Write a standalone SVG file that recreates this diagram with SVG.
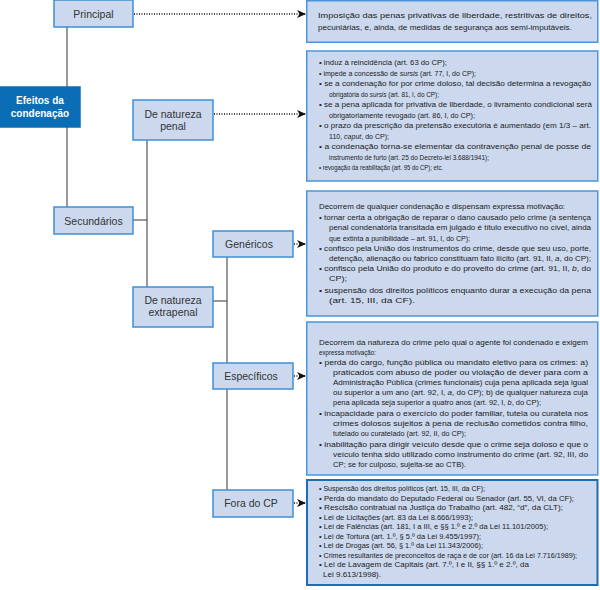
<svg xmlns="http://www.w3.org/2000/svg" width="600" height="590" viewBox="0 0 600 590">
<style>
.node{fill:#cbd8ee;stroke:#3f8fd6;stroke-width:1.5}
.root{fill:#0b6db6;stroke:#0b6db6;stroke-width:1.5}
.box{fill:#cbd8ee;stroke:#4a96d8;stroke-width:1.5}
.box5{fill:#cbd8ee;stroke:#1c6db5;stroke-width:2}
.nt{font-family:"Liberation Sans",Arial,sans-serif;font-size:10.5px;fill:#333;text-anchor:middle}
.rt{font-family:"Liberation Sans",Arial,sans-serif;font-size:10px;font-weight:bold;fill:#fff;text-anchor:middle}
.bt{font-family:"Liberation Sans",Arial,sans-serif;font-size:8px;fill:#222}
.sm{font-size:7.4px}
.ln{stroke:#555;stroke-width:1.2;fill:none}
.dt{stroke:#111;stroke-width:1.3;stroke-dasharray:1 1.5;fill:none}
.i{font-style:italic}
</style>
<defs>
<marker id="ah" markerUnits="userSpaceOnUse" markerWidth="9" markerHeight="8" refX="9" refY="4" orient="auto">
<path d="M0,0 L9,4 L0,8 L2.5,4 z" fill="#111"/>
</marker>
</defs>

<g id="connectors">
<line class="ln" x1="67" y1="27" x2="67" y2="87"/>
<line class="ln" x1="67" y1="127" x2="67" y2="207"/>
<line class="ln" x1="147" y1="140" x2="147" y2="287"/>
<line class="ln" x1="133" y1="220" x2="147" y2="220"/>
<line class="ln" x1="227" y1="257" x2="227" y2="363"/>
<line class="ln" x1="227" y1="389" x2="227" y2="490"/>
<line class="ln" x1="213" y1="301" x2="227" y2="301"/>
<line class="dt" x1="134" y1="14" x2="306" y2="14" marker-end="url(#ah)"/>
<line class="dt" x1="214" y1="114" x2="306" y2="114" marker-end="url(#ah)"/>
<line class="dt" x1="294" y1="244" x2="306" y2="244" marker-end="url(#ah)"/>
<line class="dt" x1="294" y1="376" x2="306" y2="376" marker-end="url(#ah)"/>
<line class="dt" x1="294" y1="503" x2="306" y2="503" marker-end="url(#ah)"/>
</g>

<g id="n-principal">
<rect class="node" x="54" y="0" width="79" height="27"/>
<text class="nt" x="93.5" y="18">Principal</text>
</g>
<g id="n-efeitos">
<rect class="root" x="0" y="87" width="80" height="40"/>
<text class="rt" x="40" y="104">Efeitos da</text>
<text class="rt" x="40" y="117">condenação</text>
</g>
<g id="n-secundarios">
<rect class="node" x="54" y="207" width="79" height="27"/>
<text class="nt" x="93.5" y="224.5">Secundários</text>
</g>
<g id="n-penal">
<rect class="node" x="133" y="100" width="80" height="40"/>
<text class="nt" x="173" y="117.5">De natureza</text>
<text class="nt" x="173" y="129.5">penal</text>
</g>
<g id="n-extrapenal">
<rect class="node" x="133" y="287" width="80" height="40"/>
<text class="nt" x="173" y="304">De natureza</text>
<text class="nt" x="173" y="316">extrapenal</text>
</g>
<g id="n-genericos">
<rect class="node" x="213" y="231" width="80" height="26"/>
<text class="nt" x="249" y="247.5">Genéricos</text>
</g>
<g id="n-especificos">
<rect class="node" x="213" y="363" width="80" height="26"/>
<text class="nt" x="251" y="379.5">Específicos</text>
</g>
<g id="n-fora">
<rect class="node" x="213" y="490" width="80" height="27"/>
<text class="nt" x="251" y="507">Fora do CP</text>
</g>

<g id="b-principal">
<rect class="box" x="306.75" y="0.75" width="291" height="41.5"/>
<text class="bt" x="318" y="18" textLength="274" lengthAdjust="spacingAndGlyphs">Imposição das penas privativas de liberdade, restritivas de direitos,</text>
<text class="bt" x="318" y="30" textLength="254" lengthAdjust="spacingAndGlyphs">pecuniárias, e, ainda, de medidas de segurança aos semi-imputáveis.</text>
</g>

<g id="b-penal">
<rect class="box" x="306.75" y="51" width="291" height="130"/>
<text class="bt" x="319" y="65" textLength="128" lengthAdjust="spacingAndGlyphs">• induz à reincidência (art. 63 do CP);</text>
<text class="bt" x="319" y="75.5" textLength="157" lengthAdjust="spacingAndGlyphs">• impede a concessão de <tspan class="i">sursis</tspan> (art. 77, I, do CP);</text>
<text class="bt" x="319" y="86" textLength="272" lengthAdjust="spacingAndGlyphs">• se a condenação for por crime doloso, tal decisão determina a revogação</text>
<text class="bt" x="329" y="96.5" textLength="110" lengthAdjust="spacingAndGlyphs">obrigatória do <tspan class="i">sursis</tspan> (art. 81, I, do CP);</text>
<text class="bt" x="319" y="107" textLength="273" lengthAdjust="spacingAndGlyphs">• se a pena aplicada for privativa de liberdade, o livramento condicional será</text>
<text class="bt" x="329" y="117.5" textLength="146" lengthAdjust="spacingAndGlyphs">obrigatoriamente revogado (art. 86, I, do CP);</text>
<text class="bt" x="319" y="128" textLength="272" lengthAdjust="spacingAndGlyphs">• o prazo da prescrição da pretensão executória é aumentado (em 1/3 – art.</text>
<text class="bt" x="329" y="138.5" textLength="60" lengthAdjust="spacingAndGlyphs">110, <tspan class="i">caput</tspan>, do CP);</text>
<text class="bt" x="319" y="149" textLength="272" lengthAdjust="spacingAndGlyphs">• a condenação torna-se elementar da contravenção penal de posse de</text>
<text class="bt" x="329" y="159.5" textLength="160" lengthAdjust="spacingAndGlyphs">instrumento de furto (art. 25 do Decreto-lei 3.688/1941);</text>
<text class="bt" x="319" y="170" textLength="124" lengthAdjust="spacingAndGlyphs">• revogação da reabilitação (art. 95 do CP); etc.</text>
</g>

<g id="b-genericos">
<rect class="box" x="306.75" y="191" width="291" height="125"/>
<text class="bt" x="319" y="209" textLength="246" lengthAdjust="spacingAndGlyphs">Decorrem de qualquer condenação e dispensam expressa motivação:</text>
<text class="bt" x="319" y="220" textLength="272" lengthAdjust="spacingAndGlyphs">• tornar certa a obrigação de reparar o dano causado pelo crime (a sentença</text>
<text class="bt" x="329" y="230" textLength="262" lengthAdjust="spacingAndGlyphs">penal condenatória transitada em julgado é título executivo no cível, ainda</text>
<text class="bt" x="329" y="240.5" textLength="141" lengthAdjust="spacingAndGlyphs">que extinta a punibilidade – art. 91, I, do CP);</text>
<text class="bt" x="319" y="250.5" textLength="272" lengthAdjust="spacingAndGlyphs">• confisco pela União dos instrumentos do crime, desde que seu uso, porte,</text>
<text class="bt" x="329" y="260.5" textLength="262" lengthAdjust="spacingAndGlyphs">detenção, alienação ou fabrico constituam fato ilícito (art. 91, II, <tspan class="i">a</tspan>, do CP);</text>
<text class="bt" x="319" y="271" textLength="272" lengthAdjust="spacingAndGlyphs">• confisco pela União do produto e do proveito do crime (art. 91, II, <tspan class="i">b</tspan>, do</text>
<text class="bt" x="329" y="281" textLength="18" lengthAdjust="spacingAndGlyphs">CP);</text>
<text class="bt" x="319" y="293" textLength="272" lengthAdjust="spacingAndGlyphs">• suspensão dos direitos políticos enquanto durar a execução da pena</text>
<text class="bt" x="329" y="303" textLength="86" lengthAdjust="spacingAndGlyphs">(art. 15, III, da CF).</text>
</g>

<g id="b-especificos">
<rect class="box" x="306.75" y="322" width="291" height="153"/>
<text class="bt" x="319" y="345" textLength="269" lengthAdjust="spacingAndGlyphs">Decorrem da natureza do crime pelo qual o agente foi condenado e exigem</text>
<text class="bt" x="319" y="355" textLength="57" lengthAdjust="spacingAndGlyphs">expressa motivação:</text>
<text class="bt" x="319" y="365" textLength="269" lengthAdjust="spacingAndGlyphs">• perda do cargo, função pública ou mandato eletivo para os crimes: a)</text>
<text class="bt" x="333" y="375" textLength="255" lengthAdjust="spacingAndGlyphs">praticados com abuso de poder ou violação de dever para com a</text>
<text class="bt" x="333" y="385" textLength="255" lengthAdjust="spacingAndGlyphs">Administração Pública (crimes funcionais) cuja pena aplicada seja igual</text>
<text class="bt" x="333" y="395" textLength="255" lengthAdjust="spacingAndGlyphs">ou superior a um ano (art. 92, I, <tspan class="i">a</tspan>, do CP); b) de qualquer natureza cuja</text>
<text class="bt" x="333" y="405" textLength="208" lengthAdjust="spacingAndGlyphs">pena aplicada seja superior a quatro anos (art. 92, I, <tspan class="i">b</tspan>, do CP);</text>
<text class="bt" x="319" y="416" textLength="269" lengthAdjust="spacingAndGlyphs">• incapacidade para o exercício do poder familiar, tutela ou curatela nos</text>
<text class="bt" x="333" y="426" textLength="255" lengthAdjust="spacingAndGlyphs">crimes dolosos sujeitos à pena de reclusão cometidos contra filho,</text>
<text class="bt" x="333" y="436" textLength="133" lengthAdjust="spacingAndGlyphs">tutelado ou curatelado (art. 92, II, do CP);</text>
<text class="bt" x="319" y="447" textLength="269" lengthAdjust="spacingAndGlyphs">• inabilitação para dirigir veículo desde que o crime seja doloso e que o</text>
<text class="bt" x="333" y="457" textLength="255" lengthAdjust="spacingAndGlyphs">veículo tenha sido utilizado como instrumento do crime (art. 92, III, do</text>
<text class="bt" x="333" y="467" textLength="133" lengthAdjust="spacingAndGlyphs">CP; se for culposo, sujeita-se ao CTB).</text>
</g>

<g id="b-fora">
<rect class="box5" x="307" y="480" width="290.5" height="105"/>
<text class="bt" x="319" y="491" textLength="166" lengthAdjust="spacingAndGlyphs">• Suspensão dos direitos políticos (art. 15, III, da CF);</text>
<text class="bt" x="319" y="500.5" textLength="255" lengthAdjust="spacingAndGlyphs">• Perda do mandato do Deputado Federal ou Senador (art. 55, VI, da CF);</text>
<text class="bt" x="319" y="510" textLength="244" lengthAdjust="spacingAndGlyphs">• Rescisão contratual na Justiça do Trabalho (art. 482, “d”, da CLT);</text>
<text class="bt" x="319" y="519.5" textLength="154" lengthAdjust="spacingAndGlyphs">• Lei de Licitações (art. 83 da Lei 8.666/1993);</text>
<text class="bt" x="319" y="529" textLength="229" lengthAdjust="spacingAndGlyphs">• Lei de Falências (art. 181, I a III, e §§ 1.º e 2.º da Lei 11.101/2005);</text>
<text class="bt" x="319" y="538.5" textLength="162" lengthAdjust="spacingAndGlyphs">• Lei de Tortura (art. 1.º, § 5.º da Lei 9.455/1997);</text>
<text class="bt" x="319" y="548" textLength="164" lengthAdjust="spacingAndGlyphs">• Lei de Drogas (art. 56, § 1.º da Lei 11.343/2006);</text>
<text class="bt sm" x="319" y="557.5" textLength="258" lengthAdjust="spacingAndGlyphs">• Crimes resultantes de preconceitos de raça e de cor (art. 16 da Lei 7.716/1989);</text>
<text class="bt" x="319" y="567" textLength="210" lengthAdjust="spacingAndGlyphs">• Lei de Lavagem de Capitais (art. 7.º, I e II, §§ 1.º e 2.º, da</text>
<text class="bt" x="323" y="577" textLength="58" lengthAdjust="spacingAndGlyphs">Lei 9.613/1998).</text>
</g>
</svg>
